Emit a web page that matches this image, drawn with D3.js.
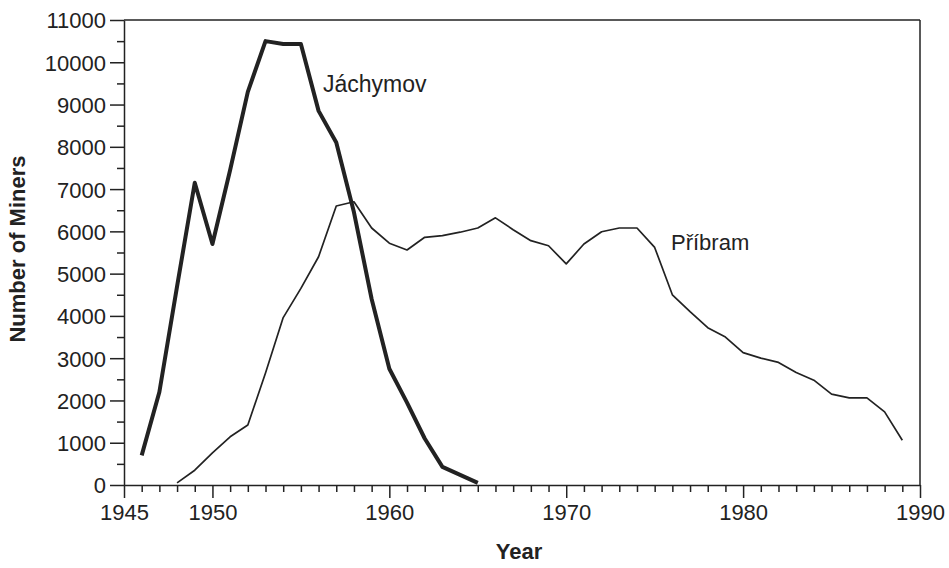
<!DOCTYPE html>
<html>
<head>
<meta charset="utf-8">
<script src="https://cdn.jsdelivr.net/npm/d3@7"></script>
<style>
  body { margin: 0; background: #fff; }
  text { font-family: "Liberation Sans", Arial, sans-serif; fill: #222; }
</style>
</head>
<body>
<div id="chart"></div>
<script>
// Jáchymov (thick line)
const jachymovYears = [1946, 1947, 1948, 1949, 1950, 1951, 1952, 1953, 1954, 1955, 1956, 1957, 1958, 1959, 1960, 1961, 1962, 1963, 1964, 1965];
const jachymovMiners = [700, 2200, 4700, 7150, 5700, 7450, 9300, 10500, 10430, 10430, 8850, 8100, 6450, 4400, 2750, 1950, 1100, 430, 240, 50];

// Příbram (thin line)
const pribramYears = [1948, 1949, 1950, 1951, 1952, 1953, 1954, 1955, 1956, 1957, 1958, 1959, 1960, 1961, 1962, 1963, 1964, 1965, 1966, 1967, 1968, 1969, 1970, 1971, 1972, 1973, 1974, 1975, 1976, 1977, 1978, 1979, 1980, 1981, 1982, 1983, 1984, 1985, 1986, 1987, 1988, 1989];
const pribramMiners = [50, 350, 760, 1140, 1420, 2650, 3960, 4650, 5400, 6600, 6700, 6080, 5720, 5560, 5860, 5900, 5980, 6080, 6320, 6040, 5780, 5660, 5230, 5700, 5990, 6080, 6080, 5620, 4500, 4100, 3720, 3500, 3130, 3000, 2900, 2660, 2480, 2150, 2060, 2060, 1730, 1060];

const yTicks = [0, 1000, 2000, 3000, 4000, 5000, 6000, 7000, 8000, 9000, 10000, 11000];
const xTicks = [1945, 1950, 1960, 1970, 1980, 1990];

let width = 949,
    height = 568;

let margin = {top: 20, right: 29, bottom: 83, left: 124};

let svg = d3.select('#chart')
  .append('svg')
  .attr('width', width)
  .attr('height', height);

let xScale = d3.scaleLinear()
  .domain([1945, 1990])
  .range([margin.left, width - margin.right]);

let yScale = d3.scaleLinear()
  .domain([0, 11000])
  .range([height - margin.bottom, margin.top]);

// minor ticks
let yMinor = d3.range(500, 11000, 1000);
let xMinor = d3.range(1945, 1991).filter(y => !xTicks.includes(y));

svg.append('g')
  .attr('transform', `translate(${margin.left},0)`)
  .call(d3.axisLeft(yScale).tickValues(yMinor).tickSize(7).tickFormat(''))
  .call(g => g.select('.domain').remove());

svg.append('g')
  .attr('transform', `translate(0,${height - margin.bottom})`)
  .call(d3.axisBottom(xScale).tickValues(xMinor).tickSize(7).tickFormat(''))
  .call(g => g.select('.domain').remove());

// main axes
let yAxis = svg.append('g')
  .attr('transform', `translate(${margin.left},0)`)
  .call(d3.axisLeft(yScale).tickValues(yTicks).tickSize(14).tickPadding(4).tickFormat(d3.format('d')).tickSizeOuter(0));

let xAxis = svg.append('g')
  .attr('transform', `translate(0,${height - margin.bottom})`)
  .call(d3.axisBottom(xScale).tickValues(xTicks).tickSize(13).tickPadding(6).tickFormat(d3.format('d')).tickSizeOuter(0));

svg.selectAll('.tick line, .domain').attr('stroke', '#222').attr('stroke-width', 1.5);
svg.selectAll('.tick text').style('font-size', '22px').attr('fill', '#222');
yAxis.selectAll('.tick text').attr('dy', '0.36em');

// top and right frame
svg.append('line')
  .attr('x1', margin.left).attr('x2', width - margin.right)
  .attr('y1', margin.top).attr('y2', margin.top)
  .attr('stroke', '#222').attr('stroke-width', 1.5);
svg.append('line')
  .attr('x1', width - margin.right).attr('x2', width - margin.right)
  .attr('y1', margin.top).attr('y2', height - margin.bottom)
  .attr('stroke', '#222').attr('stroke-width', 1.5);

// axis titles
svg.append('text')
  .attr('x', 519)
  .attr('y', 559)
  .text('Year')
  .style('text-anchor', 'middle')
  .style('font-size', '22px')
  .style('font-weight', 'bold');

svg.append('text')
  .attr('transform', 'translate(25,249) rotate(-90)')
  .text('Number of Miners')
  .style('text-anchor', 'middle')
  .style('font-size', '22px')
  .style('font-weight', 'bold');

// lines
let jachymov = jachymovYears.map((y, i) => ({year: y, value: jachymovMiners[i]}));
let pribram = pribramYears.map((y, i) => ({year: y, value: pribramMiners[i]}));

let line = d3.line()
  .x(d => xScale(d.year))
  .y(d => yScale(d.value));

svg.append('path')
  .datum(pribram)
  .attr('d', line)
  .attr('fill', 'none')
  .attr('stroke', '#222')
  .attr('stroke-width', 1.7)
  .attr('stroke-linejoin', 'round');

svg.append('path')
  .datum(jachymov)
  .attr('d', line)
  .attr('fill', 'none')
  .attr('stroke', '#222')
  .attr('stroke-width', 4)
  .attr('stroke-linejoin', 'round');

// series labels
svg.append('text')
  .attr('x', 323)
  .attr('y', 92)
  .text('Jáchymov')
  .style('font-size', '23px');

svg.append('text')
  .attr('x', 671)
  .attr('y', 250)
  .text('Příbram')
  .style('font-size', '22px');
</script>
</body>
</html>
